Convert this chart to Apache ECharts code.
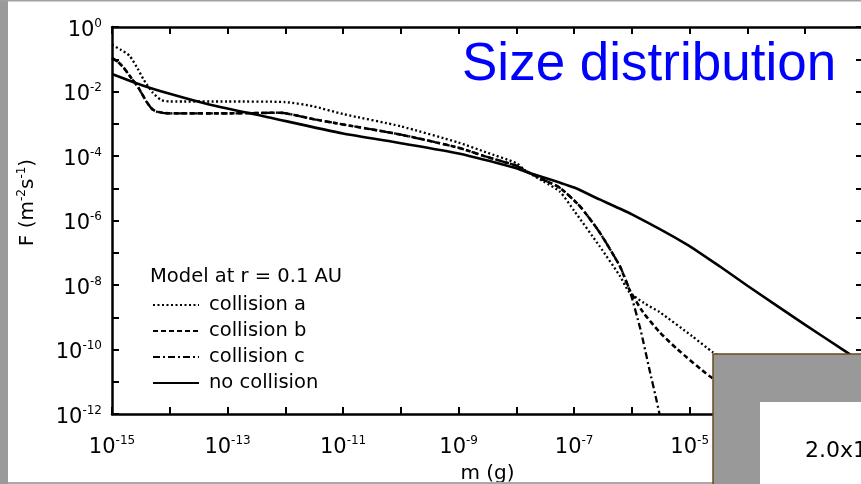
<!DOCTYPE html>
<html>
<head>
<meta charset="utf-8">
<script src="https://cdn.jsdelivr.net/npm/echarts@6/dist/echarts.min.js"></script>
<style>
  html, body { margin: 0; padding: 0; background: #fff; }
  #chart { width: 861px; height: 484px; }
</style>
</head>
<body>
<div id="chart"></div>
<script>
// values (m in g, F in m^-2 s^-1)
const massA = [1e-15, 1.4e-15, 2e-15, 2.8e-15, 3.5e-15, 5e-15, 7e-15, 1e-14, 1e-13, 1e-12, 3e-12, 1e-11, 1e-10, 1e-9, 3e-9, 1e-8, 1.5e-8, 3e-8, 5.6e-8, 1e-7, 2.75e-7, 6.2e-7, 9e-7, 1.6e-6, 3e-6, 1.1e-5, 2.5e-5, 1e-4, 1e-3]
const fluxA = [0.28, 0.2, 0.13, 0.05, 0.024, 0.0095, 0.0055, 0.0049, 0.0049, 0.0047, 0.0035, 0.002, 8.3e-4, 2.6e-4, 1.3e-4, 6e-5, 3.3e-5, 1.6e-5, 8e-6, 2e-6, 1.6e-7, 1.9e-8, 6e-9, 2.8e-9, 1.45e-9, 2.6e-10, 8.3e-11, 1.6e-11, 1e-12]

const massB = [1e-15, 1.26e-15, 1.6e-15, 2.2e-15, 2.8e-15, 4e-15, 5e-15, 6.3e-15, 1e-14, 1e-13, 8e-13, 3e-12, 1e-11, 1e-10, 1e-9, 3e-9, 1e-8, 1.5e-8, 3e-8, 5.6e-8, 1.26e-7, 2.75e-7, 6.2e-7, 9e-7, 1.55e-6, 3e-6, 6e-6, 2.2e-5, 1e-4, 3e-4]
const fluxB = [0.11, 0.083, 0.054, 0.025, 0.014, 0.0047, 0.0028, 0.0023, 0.0021, 0.0021, 0.0022, 0.0014, 9.5e-4, 4.6e-4, 1.8e-4, 9.5e-5, 5e-5, 3.3e-5, 1.8e-5, 1.05e-5, 2.75e-6, 4.3e-7, 3.8e-8, 7.4e-9, 1.45e-9, 3.5e-10, 1.05e-10, 1.5e-11, 2.5e-12, 6e-13]

const massC = [1e-15, 1.26e-15, 1.6e-15, 2.2e-15, 2.8e-15, 4e-15, 5e-15, 6.3e-15, 1e-14, 1e-13, 8e-13, 3e-12, 1e-11, 1e-10, 1e-9, 3e-9, 1e-8, 1.5e-8, 3e-8, 5.6e-8, 1.26e-7, 2.75e-7, 6.2e-7, 9e-7, 1.4e-6, 2e-6, 2.7e-6, 3e-6]
const fluxC = [0.11, 0.083, 0.054, 0.025, 0.014, 0.0047, 0.0028, 0.0023, 0.0021, 0.0021, 0.0022, 0.0014, 9.5e-4, 4.6e-4, 1.8e-4, 9.5e-5, 5e-5, 3.3e-5, 1.8e-5, 1.05e-5, 2.75e-6, 4.3e-7, 3.8e-8, 7.4e-9, 4.3e-10, 2.5e-11, 2.4e-12, 1e-12]

const massN = [1e-15, 3.2e-15, 1e-14, 5e-14, 5e-13, 1e-11, 1e-10, 1e-9, 1e-8, 1.5e-8, 5.6e-8, 1e-7, 2.75e-7, 1e-6, 9e-6, 3.3e-5, 1e-4, 1e-3, 5.2e-3, 1e-2]
const fluxN = [0.035, 0.016, 0.0085, 0.0039, 0.0016, 5e-4, 2.5e-4, 1.2e-4, 4.2e-5, 3.2e-5, 1.5e-5, 1.05e-5, 4.5e-6, 1.55e-6, 1.8e-7, 3.8e-8, 9.5e-9, 5.8e-10, 8.3e-11, 3.8e-11]

const seriesNames = ['collision a', 'collision b', 'collision c', 'no collision']

const font = 'DejaVu Sans'
const pairs = (xs, ys) => xs.map((x, i) => [x, ys[i]])

const expRich = {
  b: { fontSize: 21, fontFamily: font, color: '#000', lineHeight: 26 },
  s: { fontSize: 12, fontFamily: font, color: '#000', verticalAlign: 'top', lineHeight: 13 }
}
const expLabel = (v, odd) => {
  const e = Math.round(Math.log10(v))
  if (Math.abs(e % 2) !== (odd ? 1 : 0)) return ''
  return '{b|10}{s|' + e + '}'
}

const axisLine = { show: true, lineStyle: { color: '#000', width: 2.5 } }
const axisTick = { show: true, inside: true, length: 7, lineStyle: { color: '#000', width: 2 } }

const myChart = echarts.init(document.getElementById('chart'))
const option = {
  animation: false,
  backgroundColor: '#fff',
  grid: { left: 112, top: 27, right: -2, bottom: 70, outerBoundsMode: 'none', containLabel: false },
  legend: {
    orient: 'vertical',
    left: 152, top: 295,
    itemWidth: 46, itemHeight: 14, itemGap: 6,
    padding: 0,
    data: seriesNames,
    itemStyle: { opacity: 0 },
    textStyle: { fontSize: 19.5, fontFamily: font, color: '#000', padding: [0, 0, 0, 5] }
  },
  xAxis: [
    {
      type: 'log', logBase: 10, min: 1e-15, max: 1e-2, interval: 1,
      name: 'm (g)', nameLocation: 'middle', nameGap: 49,
      nameTextStyle: { fontSize: 20, fontFamily: font, color: '#000' },
      axisLine, axisTick,
      axisLabel: { margin: 21, formatter: v => expLabel(v, true), rich: expRich },
      splitLine: { show: false }
    },
    {
      type: 'log', logBase: 10, min: 1e-15, max: 1e-2, interval: 1, position: 'top',
      axisLine, axisTick, axisLabel: { show: false }, splitLine: { show: false }
    }
  ],
  yAxis: [
    {
      type: 'log', logBase: 10, min: 1e-12, max: 1, interval: 1,
      name: '{n|F (m}{s|-2}{n|s}{s|-1}{n|)}', nameLocation: 'middle', nameGap: 72,
      nameTextStyle: {
        padding: [0, 0, 0, 36],
        rich: {
          n: { fontSize: 20, fontFamily: font, color: '#000', lineHeight: 24 },
          s: { fontSize: 12, fontFamily: font, color: '#000', verticalAlign: 'top', lineHeight: 13 }
        }
      },
      axisLine, axisTick,
      axisLabel: { margin: 10, padding: [7, 0, 0, 0], formatter: v => expLabel(v, false), rich: expRich },
      splitLine: { show: false }
    },
    {
      type: 'log', logBase: 10, min: 1e-12, max: 1, interval: 1, position: 'right',
      axisLine, axisTick, axisLabel: { show: false }, splitLine: { show: false }
    }
  ],
  series: [
    {
      name: seriesNames[0], type: 'line', data: pairs(massA, fluxA),
      symbol: 'none', smooth: 0.2,
      lineStyle: { color: '#000', width: 2.3, type: [2, 2.5] }
    },
    {
      name: seriesNames[1], type: 'line', data: pairs(massB, fluxB),
      symbol: 'none', smooth: 0.2,
      lineStyle: { color: '#000', width: 2.6, type: [5, 3] }
    },
    {
      name: seriesNames[2], type: 'line', data: pairs(massC, fluxC),
      symbol: 'none', smooth: 0.2,
      lineStyle: { color: '#000', width: 2.3, type: [7, 3, 2, 3] }
    },
    {
      name: seriesNames[3], type: 'line', data: pairs(massN, fluxN),
      symbol: 'none', smooth: 0.2,
      lineStyle: { color: '#000', width: 2.6, type: 'solid' }
    }
  ],
  graphic: [
    // slide frame
    { type: 'rect', shape: { x: 0, y: 0, width: 8, height: 484 }, style: { fill: '#9a9a9a' }, z: 100 },
    { type: 'rect', shape: { x: 0, y: 0, width: 861, height: 1.5 }, style: { fill: '#a0a0a0' }, z: 100 },
    { type: 'rect', shape: { x: 8, y: 482, width: 705, height: 2 }, style: { fill: '#a8a8a8' }, z: 100 },
    {
      type: 'text', x: 462, y: 65, z: 100,
      style: { text: 'Size distribution', fontSize: 53, fontFamily: 'Liberation Sans', fill: '#0000ff', verticalAlign: 'middle' }
    },
    {
      type: 'text', x: 150, y: 277, z: 100,
      style: { text: 'Model at r = 0.1 AU', fontSize: 19.5, fontFamily: font, fill: '#000', verticalAlign: 'middle' }
    },
    // overlapping panel in the corner
    { type: 'rect', shape: { x: 713, y: 354, width: 160, height: 140 }, style: { fill: '#999999', stroke: '#6b4a1f', lineWidth: 1.5 }, z: 100 },
    { type: 'rect', shape: { x: 760, y: 402, width: 110, height: 90 }, style: { fill: '#fff' }, z: 101 },
    {
      type: 'text', x: 805, y: 451, z: 102,
      style: { text: '2.0x1', fontSize: 22, fontFamily: font, fill: '#000', verticalAlign: 'middle' }
    }
  ]
}
myChart.setOption(option)
</script>
</body>
</html>
